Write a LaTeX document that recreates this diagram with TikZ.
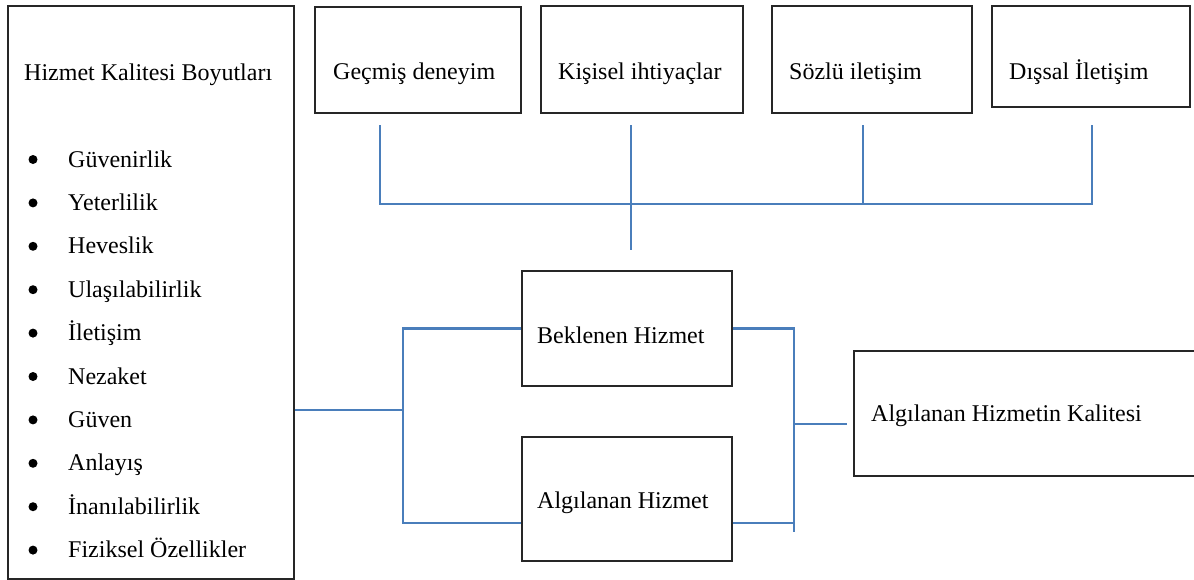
\documentclass[tikz,border=0pt]{standalone}
\usepackage{fontspec}
\setmainfont{Liberation Serif}
\usetikzlibrary{calc}
\definecolor{edge}{HTML}{262626}
\definecolor{link}{HTML}{4A7EBB}
\tikzset{
  box/.style={draw=edge, line width=1.5pt, anchor=north west, inner sep=0pt},
  wire/.style={draw=link, line width=2.8pt},
  lbl/.style={anchor=base west, inner sep=0pt, font=\fontsize{24}{28}\selectfont},
  dot/.style={circle, fill=black, inner sep=0pt, minimum size=9pt}
}
\begin{document}
\begin{tikzpicture}[x=1pt, y=-1pt]
  \clip (0,0) rectangle (1194,579);

  % left panel
  \node[box, minimum width=286pt, minimum height=573pt] (dims) at (7,5) {};
  \node[lbl] (dimsT) at (24,80) {Hizmet Kalitesi Boyutları};
  \foreach \t [count=\i] in {Güvenirlik, Yeterlilik, Heveslik, Ulaşılabilirlik, İletişim,
      Nezaket, Güven, Anlayış, İnanılabilirlik, Fiziksel Özellikler} {
    \node[dot] (b\i) at (33, 116.1+43.4*\i) {};
    \node[lbl] (d\i) at (68, 123.6+43.4*\i) {\t};
  }

  % top boxes
  \node[box, minimum width=206pt, minimum height=106pt] (gecmis) at (314,6) {};
  \node[box, minimum width=202pt, minimum height=107pt] (kisisel) at (540,5) {};
  \node[box, minimum width=200pt, minimum height=107pt] (sozlu) at (771,5) {};
  \node[box, minimum width=198pt, minimum height=101pt] (dissal) at (991,5) {};
  \node[lbl] (gecmisT) at (333,79) {Geçmiş deneyim};
  \node[lbl] (kisiselT) at (558,79) {Kişisel ihtiyaçlar};
  \node[lbl] (sozluT) at (789,79) {Sözlü iletişim};
  \node[lbl] (dissalT) at (1009,79) {Dışsal İletişim};

  % middle and result boxes
  \node[box, minimum width=210pt, minimum height=115pt] (beklenen) at (521,270) {};
  \node[box, minimum width=210pt, minimum height=124pt] (algilanan) at (521,436) {};
  \node[box, minimum width=380pt, minimum height=125pt] (kalite) at (853,350) {};
  \node[lbl] (beklenenT) at (537,343) {Beklenen Hizmet};
  \node[lbl] (algilananT) at (537,508) {Algılanan Hizmet};
  \node[lbl] (kaliteT) at (871,421) {Algılanan Hizmetin Kalitesi};

  % bus under the top boxes
  \coordinate (gTop) at (380,125);
  \coordinate (kTop) at (631,125);
  \coordinate (sTop) at (863,125);
  \coordinate (dTop) at (1092,125);
  \coordinate (kEnd) at (631,250);
  \draw[wire] (gTop) |- (0,204 -| dTop) -- (dTop);
  \draw[wire] (kTop) -- (kEnd);
  \draw[wire] (sTop) -- (sTop |- 0,204);

  % brackets
  \coordinate (lj) at (403,410);
  \coordinate (la) at (403,523);
  \coordinate (rb) at (794,532);
  \coordinate (rj) at (794,424);
  \coordinate (kj) at (847,424);
  \draw[wire] (dims.east |- lj) -- (lj);
  \draw[wire] (beklenen.west) -| (la) -- (algilanan.west |- la);
  \draw[wire] (beklenen.east) -| (rb);
  \draw[wire] (algilanan.east |- la) -- (la -| rb);
  \draw[wire] (rj) -- (kj);
\end{tikzpicture}
\end{document}
